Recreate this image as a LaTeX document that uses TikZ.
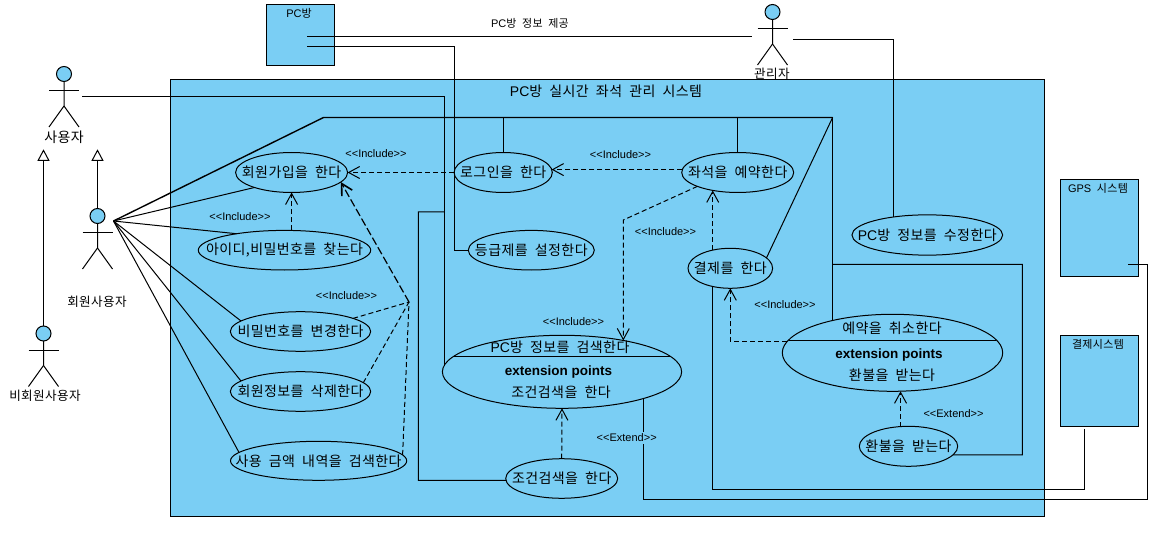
\documentclass[tikz,border=0pt]{standalone}
\usepackage{fontspec}
\setmainfont{Liberation Sans}
\newfontfamily\kor[LetterSpace=3,WordSpace=2]{Noto Sans CJK KR}
\usetikzlibrary{arrows.meta,shapes.geometric}
\definecolor{vpblue}{RGB}{122,206,244}
\newcommand{\uctext}[1]{\makebox[0pt]{\raisebox{-1pt}{#1}}}
\tikzset{
head/.style={draw,circle,fill=vpblue,minimum size=15pt},
pics/stick/.style={code={
\draw (0,0) node[head] (-head) {};
\draw (-head.south) -- (0,32) -- (-15,53);
\draw (0,32) -- (15,53);
\draw (-15,16.5) -- (15,16.5);
}}}
\begin{document}
\begin{tikzpicture}[x=1pt,y=-1pt,inner sep=0pt,outer sep=0pt,line width=1pt,>={Straight Barb[length=11pt,width=12pt]},
txtbig/.style={font=\kor\fontsize{14}{16}\selectfont},
txtmid/.style={font=\kor\fontsize{12.6}{14}\selectfont},
txtsmall/.style={font=\kor\fontsize{11}{12}\selectfont},
stereo/.style={font=\fontsize{11}{13}\selectfont},
extpts/.style={font=\bfseries\fontsize{13.5}{15}\selectfont},
usecase/.style 2 args={draw,ellipse,fill=vpblue,minimum width=#1,minimum height=#2,txtbig},
sysbox/.style 2 args={draw,rectangle,fill=vpblue,minimum width=#1,minimum height=#2},
dep/.style={->,dash pattern=on 5pt off 3pt},
depbold/.style={-{Straight Barb[length=11pt,width=12pt,line width=1.6pt]},dash pattern=on 8pt off 3pt,line width=1.2pt},
gen/.style={-{Triangle[open,fill=white,length=11.5pt,width=12pt]}}]
\useasboundingbox (0,0) rectangle (1161,537);
% boxes
\draw (607.4,298) node[sysbox={874pt}{437pt}] (system) {};
\draw (300.5,35.2) node[sysbox={68pt}{61.5pt}] (room) {};
\draw (1099.3,227.8) node[sysbox={78pt}{97pt}] (gps) {};
\draw (1099.3,380.8) node[sysbox={78pt}{91pt}] (paysys) {};
\draw (606,91) node[txtbig] (systitle) {\textrm{PC}방 실시간 좌석 관리 시스템};
\draw (299,13.5) node[txtsmall] (roomtitle) {\textrm{PC}방};
\draw (1098,188.5) node[txtsmall] (gpstitle) {\textrm{GPS} 시스템};
\draw (1098,344) node[txtsmall] (paytitle) {결제시스템};
% actors
\draw (64,74) pic (user) {stick};
\draw (97.5,216) pic (member) {stick};
\draw (43.5,333.5) pic (guest) {stick};
\draw (772.5,12) pic (admin) {stick};
\draw (64,137) node[txtbig] (usertxt) {사용자};
\draw (97,301.5) node[txtmid] (membertxt) {회원사용자};
\draw (45,395.5) node[txtmid] (guesttxt) {비회원사용자};
\draw (772,73.5) node[txtmid] (admintxt) {관리자};
% use cases
\draw (291.6,172.5) node[usecase={112pt}{40pt}] (join) {\uctext{회원가입을 한다}};
\draw (284.5,250.2) node[usecase={172.4pt}{39.6pt}] (find) {\uctext{아이디,비밀번호를 찾는다}};
\draw (300.5,331.5) node[usecase={140.4pt}{39.6pt}] (passwd) {\uctext{비밀번호를 변경한다}};
\draw (300.5,391.5) node[usecase={140.4pt}{39.6pt}] (remove) {\uctext{회원정보를 삭제한다}};
\draw (318.6,460.8) node[usecase={176.2pt}{39pt}] (history) {\uctext{사용 금액 내역을 검색한다}};
\draw (503.2,172.5) node[usecase={98.2pt}{40pt}] (login) {\uctext{로그인을 한다}};
\draw (737.7,172.5) node[usecase={112pt}{40pt}] (seat) {\uctext{좌석을 예약한다}};
\draw (531.3,250.2) node[usecase={126pt}{39.6pt}] (grade) {\uctext{등급제를 설정한다}};
\draw (730.3,268.3) node[usecase={84.6pt}{40pt}] (pay) {\uctext{결제를 한다}};
\draw (927.3,235) node[usecase={150.7pt}{40.3pt}] (update) {\uctext{\textrm{PC}방 정보를 수정한다}};
\draw (561.7,478.5) node[usecase={112pt}{39.6pt}] (cond) {\uctext{조건검색을 한다}};
\draw (908.5,446.3) node[usecase={98.4pt}{40pt}] (refund) {\uctext{환불을 받는다}};
\draw (562,371.8) node[usecase={239.2pt}{73pt}] (search) {};
\draw (892.5,352.8) node[usecase={220.4pt}{77pt}] (cancel) {};
\draw (search.172) -- (search.8);
\draw (cancel.173) -- (cancel.7);
\draw (560,347.2) node[txtbig] (searchtitle) {\textrm{PC}방 정보를 검색한다};
\draw (558.5,372) node[extpts] (searchext) {extension points};
\draw (561,392) node[txtbig] (searchsub) {조건검색을 한다};
\draw (892,328.5) node[txtbig] (canceltitle) {예약을 취소한다};
\draw (889,355) node[extpts] (cancelext) {extension points};
\draw (892,375) node[txtbig] (cancelsub) {환불을 받는다};
% free ends
\coordinate (hub) at (113.5,221);
\coordinate (trunka) at (323.5,117.5);
\coordinate (trunkb) at (832.6,117.5);
\coordinate (refundfork) at (832.6,264.3);
\coordinate (refundturn) at (1022.3,454.8);
\coordinate (fork) at (409,302);
\coordinate (seatbend) at (623.3,220);
\coordinate (userout) at (82,96.5);
\coordinate (userfork) at (444.3,212);
\coordinate (condturn) at (418.3,480.3);
\coordinate (roomouta) at (307,36.5);
\coordinate (roomoutb) at (307,46.5);
\coordinate (adminin) at (752,36.5);
\coordinate (adminout) at (793.3,39.3);
\coordinate (gradeturn) at (454.3,250.2);
\coordinate (payturn) at (1084.3,489.3);
\coordinate (payout) at (1084.3,429.3);
\coordinate (gpsturn) at (1147.7,499.3);
\coordinate (gpsout) at (1127.7,264.3);
\coordinate (memberup) at (97.5,149.3);
\coordinate (guestup) at (43.5,149.3);
% generalization
\draw[gen] (member-head.north) -- (memberup);
\draw[gen] (guest-head.north) -- (guestup);
% associations
\draw[line width=1.4pt] (hub) -- (trunka) -- (trunkb);
\draw (trunkb) -- (trunkb |- cancel.152);
\draw (trunkb) -- (pay.16);
\draw (login.north |- trunkb) -- (login.north);
\draw (seat.north |- trunkb) -- (seat.north);
\draw (refundfork) -| (refundturn) -- (refund.-11);
\draw (hub) -- (join.202);
\draw (hub) -- (find.161);
\draw (hub) -- (passwd.170);
\draw (hub) -- (remove.170);
\draw (hub) -- (history.174);
\draw (userout) -| (search.177);
\draw (userfork) -| (condturn) -- (cond.182);
\draw (roomouta) -- (adminin);
\draw (roomoutb) -| (gradeturn) -- (grade.west);
\draw (adminout) -| (update.152);
\draw (pay.226) |- (payturn) -- (payout);
\draw (search.-18) |- (gpsturn) |- (gpsout);
% include and extend
\draw[dep] (find.north -| join.south) -- (join.south);
\draw[dep] (login.west) -- (join.east);
\draw[dep] (seat.177) -- (seat.177 -| login.4);
\draw[dep] (seat.199) -- (seatbend) -- (seatbend |- search.27);
\draw[dep] (pay.134) -- (pay.134 |- seat.216);
\draw[dep] (cancel.174) -| (pay.south);
\draw[dep] (cond.north) -- (search.south);
\draw[dep] (refund.112) -- (refund.112 |- cancel.south);
\draw[dash pattern=on 5pt off 3pt] (passwd.14) -- (fork);
\draw[dash pattern=on 5pt off 3pt] (remove.8) -- (fork);
\draw[dash pattern=on 5pt off 3pt] (history.4) -- (fork);
\draw[depbold] (fork) -- (join.-11);
% labels
\draw (530,23.5) node[txtsmall] (roominfo) {\textrm{PC}방 정보 제공};
\draw (376,154) node[stereo] (inclogin) {<{}<Include>{}>};
\draw (620.5,155) node[stereo] (incseat) {<{}<Include>{}>};
\draw (240,217) node[stereo] (incfind) {<{}<Include>{}>};
\draw (665.5,232) node[stereo] (incpay) {<{}<Include>{}>};
\draw (346.5,295.5) node[stereo] (incmember) {<{}<Include>{}>};
\draw (573.5,322) node[stereo] (incsearch) {<{}<Include>{}>};
\draw (785,305) node[stereo] (inccancel) {<{}<Include>{}>};
\draw (626.7,438) node[stereo,fill=vpblue,inner sep=2pt] (extcond) {<{}<Extend>{}>};
\draw (953.5,414) node[stereo] (extrefund) {<{}<Extend>{}>};
\end{tikzpicture}
\end{document}
